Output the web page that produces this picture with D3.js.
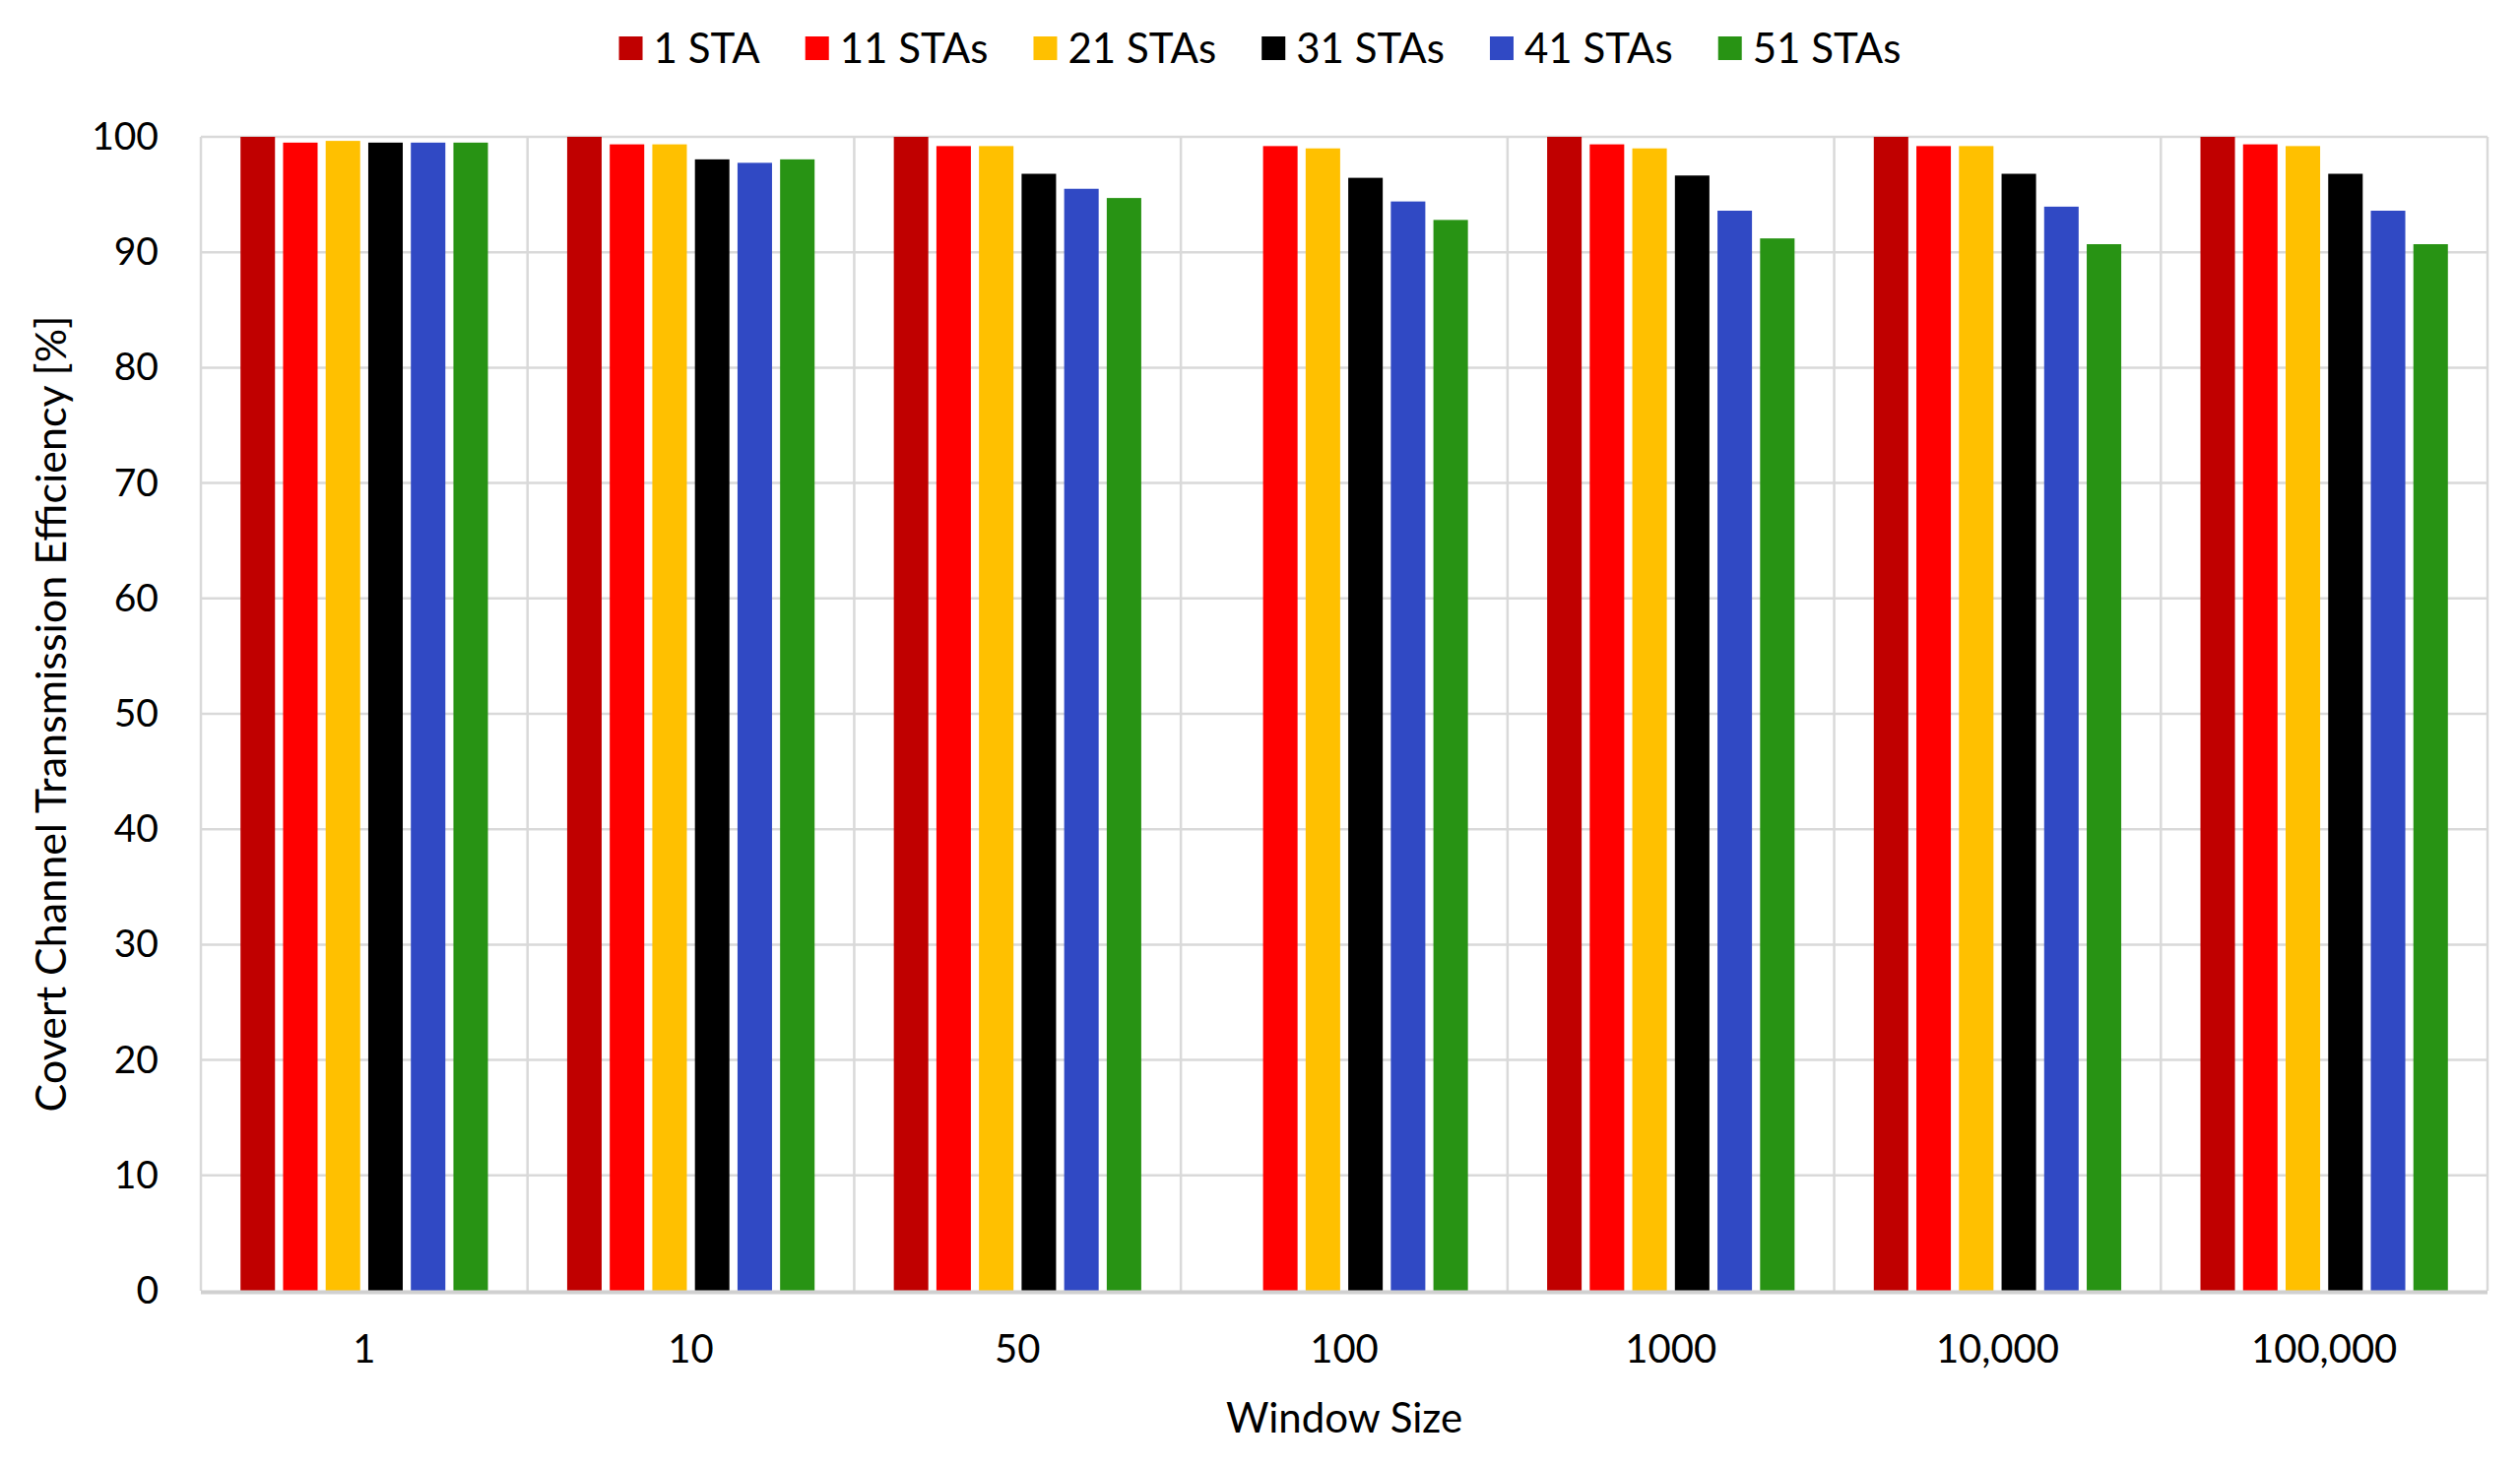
<!DOCTYPE html>
<html>
<head>
<meta charset="utf-8">
<script src="https://cdn.jsdelivr.net/npm/d3@7"></script>
<style>
  body { margin: 0; background: #fff; }
  text { font-family: Lato, "Open Sans", sans-serif; fill: #000; }
</style>
</head>
<body>
<svg id="chart" width="2559" height="1490"></svg>
<script>
// categories and series
let windows = ["1", "10", "50", "100", "1000", "10,000", "100,000"]
let series = ["1 STA", "11 STAs", "21 STAs", "31 STAs", "41 STAs", "51 STAs"]
let colors = ["#C00000", "#FF0000", "#FFC000", "#000000", "#3049C4", "#289314"]
let y_ticks = [0, 10, 20, 30, 40, 50, 60, 70, 80, 90, 100]

// one array per series, values per window size (null = no bar)
let sta1  = [100, 100, 100, null, 100, 100, 100]
let sta11 = [99.5, 99.35, 99.2, 99.2, 99.35, 99.2, 99.35]
let sta21 = [99.65, 99.35, 99.2, 99.0, 99.0, 99.2, 99.2]
let sta31 = [99.5, 98.05, 96.8, 96.45, 96.65, 96.8, 96.8]
let sta41 = [99.5, 97.75, 95.5, 94.4, 93.6, 93.95, 93.6]
let sta51 = [99.5, 98.05, 94.7, 92.8, 91.2, 90.7, 90.7]
let values = [sta1, sta11, sta21, sta31, sta41, sta51]

let margin = {top: 139, right: 33, bottom: 179, left: 204}
let W = 2559, H = 1490

let svg = d3.select("#chart")

let x0 = d3.scaleBand()
  .domain(windows)
  .range([margin.left, W - margin.right])
  .padding(0)

let x1 = d3.scaleBand()
  .domain(series)
  .range([0, x0.bandwidth()])
  .paddingInner(0.19)
  .paddingOuter(0.93)

let y = d3.scaleLinear()
  .domain([0, 100])
  .range([H - margin.bottom, margin.top])

// horizontal grid
svg.append("g")
  .selectAll("line")
  .data(y_ticks.filter(d => d > 0))
  .enter().append("line")
  .attr("x1", margin.left)
  .attr("x2", W - margin.right)
  .attr("y1", d => y(d))
  .attr("y2", d => y(d))
  .attr("stroke", "#D9D9D9")
  .attr("stroke-width", 2.5)

// vertical separators between categories
let edges = windows.map(d => x0(d)).concat([W - margin.right])
svg.append("g")
  .selectAll("line")
  .data(edges)
  .enter().append("line")
  .attr("x1", d => d)
  .attr("x2", d => d)
  .attr("y1", margin.top)
  .attr("y2", H - margin.bottom)
  .attr("stroke", "#D9D9D9")
  .attr("stroke-width", 2.5)

// bars
let rows = []
windows.forEach((w, i) => {
  series.forEach((s, j) => {
    if (values[j][i] !== null) rows.push({w: w, s: s, v: values[j][i], c: colors[j]})
  })
})

svg.append("g")
  .selectAll("rect")
  .data(rows)
  .enter().append("rect")
  .attr("x", d => x0(d.w) + x1(d.s))
  .attr("width", x1.bandwidth())
  .attr("y", d => y(d.v))
  .attr("height", d => y(0) - y(d.v))
  .attr("fill", d => d.c)

// x axis baseline
svg.append("line")
  .attr("x1", margin.left)
  .attr("x2", W - margin.right)
  .attr("y1", y(0) + 1.5)
  .attr("y2", y(0) + 1.5)
  .attr("stroke", "#D0D0D0")
  .attr("stroke-width", 4)

// axes labels via d3 axes (no ticks, no domain)
let x_axis = d3.axisBottom(x0).tickSize(0).tickPadding(45)
svg.append("g")
  .attr("transform", `translate(0, ${H - margin.bottom})`)
  .call(x_axis)
  .call(g => g.select(".domain").remove())
  .selectAll("text")
  .style("font-size", "40px")
  .style("font-family", "Lato, sans-serif")
  .attr("fill", "#000")

let y_axis = d3.axisLeft(y).tickValues(y_ticks).tickSize(0).tickPadding(43)
svg.append("g")
  .attr("transform", `translate(${margin.left}, 0)`)
  .call(y_axis)
  .call(g => g.select(".domain").remove())
  .selectAll("text")
  .style("font-size", "39px")
  .style("font-family", "Lato, sans-serif")
  .attr("fill", "#000")

// axis titles
svg.append("text")
  .attr("x", (margin.left + W - margin.right) / 2)
  .attr("y", 1455)
  .attr("text-anchor", "middle")
  .style("font-size", "42px")
  .text("Window Size")

svg.append("text")
  .attr("transform", `translate(67, ${(margin.top + H - margin.bottom) / 2}) rotate(-90)`)
  .attr("text-anchor", "middle")
  .style("font-size", "43px")
  .text("Covert Channel Transmission Efficiency [%]")

// legend
let legend = svg.append("g")
let lx = 0
series.forEach((s, j) => {
  let g = legend.append("g").attr("transform", `translate(${lx}, 0)`)
  g.append("rect")
    .attr("x", 0).attr("y", -12)
    .attr("width", 24).attr("height", 24)
    .attr("fill", colors[j])
  let t = g.append("text")
    .attr("x", 35).attr("y", 15)
    .style("font-size", "42px")
    .text(s)
  lx += 35 + t.node().getComputedTextLength() + 46
})
let lw = lx - 46
legend.attr("transform", `translate(${(W - lw) / 2}, 49)`)
</script>
</body>
</html>
